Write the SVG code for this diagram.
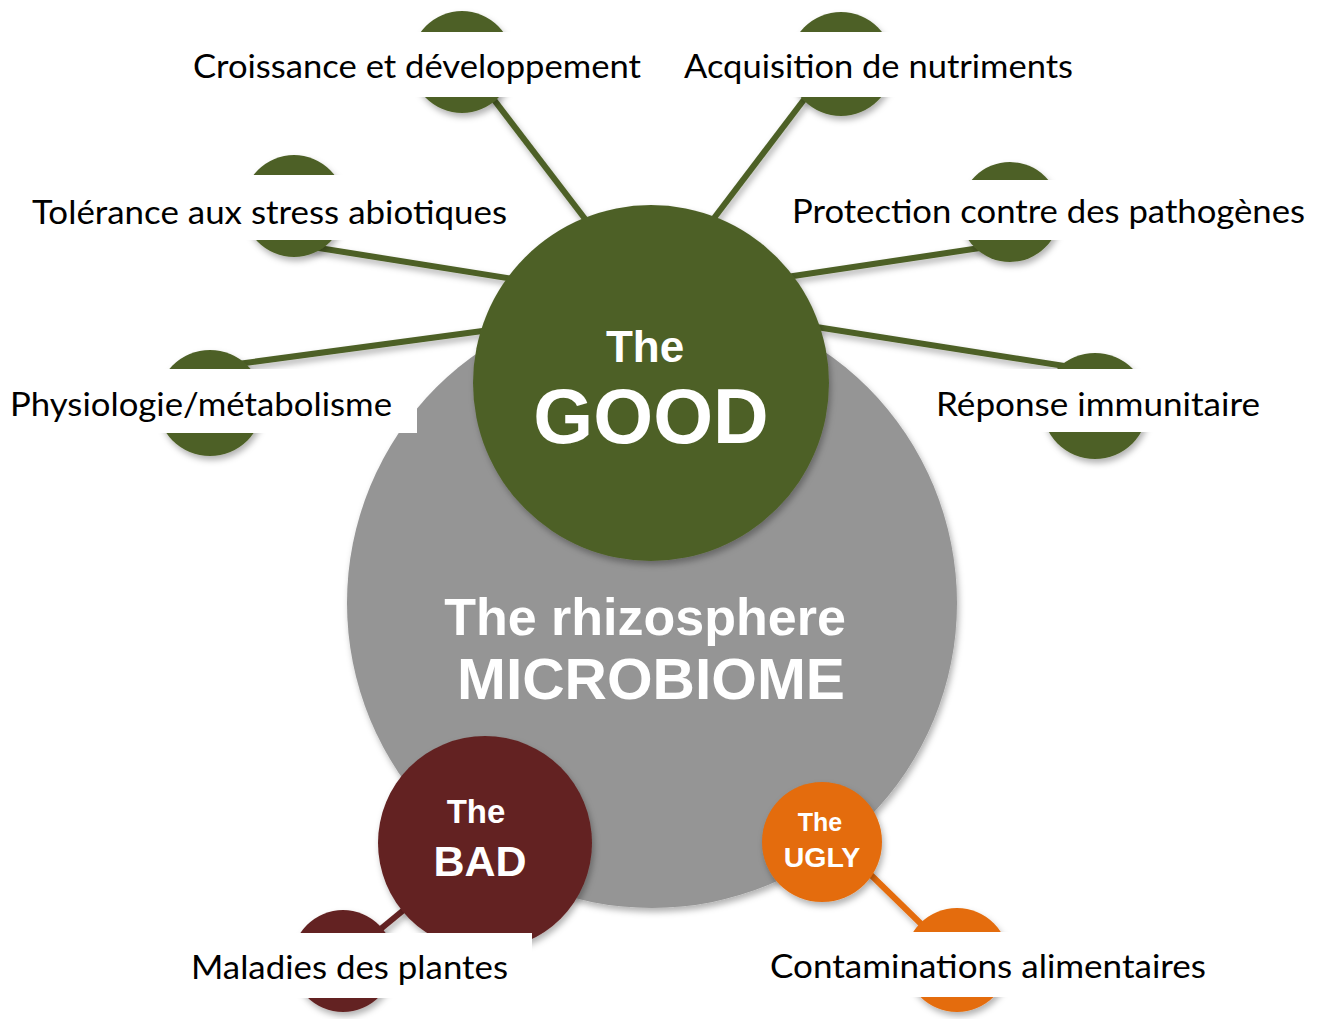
<svg xmlns="http://www.w3.org/2000/svg" width="1318" height="1019" viewBox="0 0 1318 1019">
<defs>
<filter id="sh" x="-20%" y="-20%" width="140%" height="140%">
<feDropShadow dx="2" dy="4" stdDeviation="3" flood-color="#000" flood-opacity="0.3"/>
</filter>
<style>
.g{fill:#4e6127}
.b{fill:#632322}
.u{fill:#e46c0a}
.gl{stroke:#4e6127;stroke-width:6;fill:none}
.bl{stroke:#632322;stroke-width:6;fill:none}
.ul{stroke:#e46c0a;stroke-width:6;fill:none}
.box{fill:#fff}
.lab{font-family:Lato,"Liberation Sans",sans-serif;font-size:33px;fill:#000}
.w{font-family:"Liberation Sans",Arial,sans-serif;font-weight:bold;fill:#fff;text-anchor:middle}
</style>
</defs>
<rect width="1318" height="1019" fill="#fff"/>
<g id="connectors" filter="url(#sh)">
<line class="gl" x1="475" y1="75" x2="592" y2="228"/>
<line class="gl" x1="825" y1="72" x2="705" y2="230"/>
<line class="gl" x1="300" y1="245" x2="520" y2="280"/>
<line class="gl" x1="1000" y1="245" x2="780" y2="278"/>
<line class="gl" x1="215" y1="367" x2="490" y2="330"/>
<line class="gl" x1="810" y1="326" x2="1090" y2="370"/>
<line class="bl" x1="343" y1="960" x2="485" y2="843"/>
<line class="ul" x1="830" y1="835" x2="955" y2="957"/>
</g>
<g id="microbiome">
<circle cx="652" cy="603" r="305" fill="#959595" filter="url(#sh)"/>
<text class="w" x="645" y="635" font-size="52">The rhizosphere</text>
<text class="w" x="651" y="699" font-size="57" textLength="388" lengthAdjust="spacingAndGlyphs">MICROBIOME</text>
</g>
<g id="good">
<circle class="g" cx="651" cy="383" r="178" filter="url(#sh)"/>
<text class="w" x="645" y="362" font-size="44">The</text>
<text class="w" x="651" y="443" font-size="77">GOOD</text>
</g>
<g id="bad">
<circle class="b" cx="485" cy="843" r="107" filter="url(#sh)"/>
<text class="w" x="476" y="823" font-size="33">The</text>
<text class="w" x="480" y="876" font-size="43">BAD</text>
</g>
<g id="ugly">
<circle class="u" cx="822" cy="842" r="60" filter="url(#sh)"/>
<text class="w" x="820" y="831" font-size="25">The</text>
<text class="w" x="822" y="867" font-size="28.5">UGLY</text>
</g>
<g id="croissance">
<circle class="g" cx="462" cy="62" r="51" filter="url(#sh)"/>
<rect class="box" x="183" y="32" width="468" height="65"/>
<text class="lab" x="193" y="78" textLength="448" lengthAdjust="spacingAndGlyphs">Croissance et développement</text>
</g>
<g id="acquisition">
<circle class="g" cx="841" cy="64" r="52" filter="url(#sh)"/>
<rect class="box" x="675" y="32" width="408" height="65"/>
<text class="lab" x="684" y="78" textLength="389" lengthAdjust="spacingAndGlyphs">Acquisition de nutriments</text>
</g>
<g id="tolerance">
<circle class="g" cx="294" cy="206" r="51" filter="url(#sh)"/>
<rect class="box" x="22" y="175" width="495" height="65"/>
<text class="lab" x="32" y="224" textLength="475" lengthAdjust="spacingAndGlyphs">Tolérance aux stress abiotiques</text>
</g>
<g id="protection">
<circle class="g" cx="1010" cy="212" r="50" filter="url(#sh)"/>
<rect class="box" x="782" y="180" width="536" height="60"/>
<text class="lab" x="792" y="223" textLength="513" lengthAdjust="spacingAndGlyphs">Protection contre des pathogènes</text>
</g>
<g id="physiologie">
<circle class="g" cx="210" cy="403" r="53" filter="url(#sh)"/>
<rect class="box" x="0" y="369" width="417" height="64"/>
<text class="lab" x="10" y="416" textLength="382" lengthAdjust="spacingAndGlyphs">Physiologie/métabolisme</text>
</g>
<g id="reponse">
<circle class="g" cx="1095" cy="406" r="53" filter="url(#sh)"/>
<rect class="box" x="928" y="369" width="342" height="63"/>
<text class="lab" x="936" y="416" textLength="324" lengthAdjust="spacingAndGlyphs">Réponse immunitaire</text>
</g>
<g id="maladies">
<circle class="b" cx="343" cy="961" r="51" filter="url(#sh)"/>
<rect class="box" x="181" y="933" width="351" height="65"/>
<text class="lab" x="191" y="979" textLength="317" lengthAdjust="spacingAndGlyphs">Maladies des plantes</text>
</g>
<g id="contaminations">
<circle class="u" cx="957" cy="960" r="52" filter="url(#sh)"/>
<rect class="box" x="760" y="932" width="456" height="65"/>
<text class="lab" x="770" y="978" textLength="436" lengthAdjust="spacingAndGlyphs">Contaminations alimentaires</text>
</g>
</svg>
